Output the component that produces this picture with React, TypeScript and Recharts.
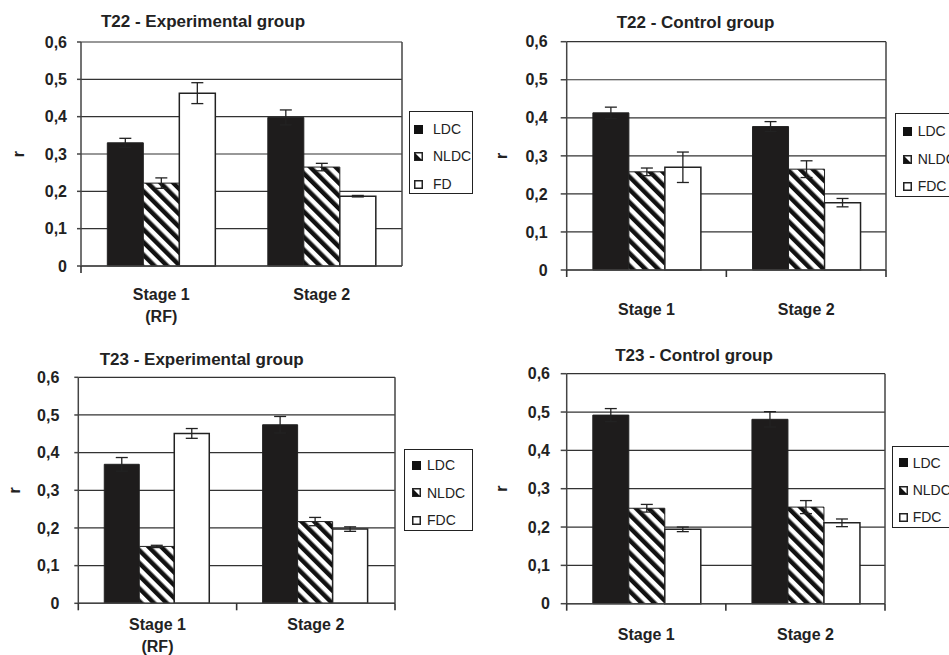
import React from 'react';
import { BarChart, Bar, XAxis, YAxis, CartesianGrid, ErrorBar, Legend } from 'recharts';

const FONT = '"Liberation Sans", Arial, Helvetica, sans-serif';
const INK = '#222';

// ---------- data ----------
const yTicks = [0, 0.1, 0.2, 0.3, 0.4, 0.5, 0.6];
const fmtY = (v: number) => (v === 0 ? '0' : v.toFixed(1).replace('.', ','));

// T22 - Experimental group
const t22ExpCategories = ['Stage 1\n(RF)', 'Stage 2'];
const t22ExpNames = ['LDC', 'NLDC', 'FD'];
const t22ExpLDC = [0.330, 0.398];
const t22ExpLDCErr = [0.012, 0.020];
const t22ExpNLDC = [0.222, 0.265];
const t22ExpNLDCErr = [0.014, 0.010];
const t22ExpFD = [0.463, 0.187];
const t22ExpFDErr = [0.028, 0.002];

// T22 - Control group
const t22CtlCategories = ['Stage 1', 'Stage 2'];
const t22CtlNames = ['LDC', 'NLDC', 'FDC'];
const t22CtlLDC = [0.413, 0.377];
const t22CtlLDCErr = [0.015, 0.013];
const t22CtlNLDC = [0.258, 0.265];
const t22CtlNLDCErr = [0.010, 0.022];
const t22CtlFDC = [0.270, 0.177];
const t22CtlFDCErr = [0.040, 0.011];

// T23 - Experimental group
const t23ExpCategories = ['Stage 1\n(RF)', 'Stage 2'];
const t23ExpNames = ['LDC', 'NLDC', 'FDC'];
const t23ExpLDC = [0.369, 0.474];
const t23ExpLDCErr = [0.018, 0.022];
const t23ExpNLDC = [0.151, 0.217];
const t23ExpNLDCErr = [0.003, 0.011];
const t23ExpFDC = [0.451, 0.197];
const t23ExpFDCErr = [0.013, 0.006];

// T23 - Control group
const t23CtlCategories = ['Stage 1', 'Stage 2'];
const t23CtlNames = ['LDC', 'NLDC', 'FDC'];
const t23CtlLDC = [0.492, 0.481];
const t23CtlLDCErr = [0.017, 0.020];
const t23CtlNLDC = [0.249, 0.252];
const t23CtlNLDCErr = [0.010, 0.017];
const t23CtlFDC = [0.194, 0.211];
const t23CtlFDCErr = [0.006, 0.010];

type Row = { name: string; ldc: number; ldcErr: number; nldc: number; nldcErr: number; fd: number; fdErr: number };

function makeRows(cats: string[], a: number[], ae: number[], b: number[], be: number[], c: number[], ce: number[]): Row[] {
  return cats.map((name, i) => ({ name, ldc: a[i], ldcErr: ae[i], nldc: b[i], nldcErr: be[i], fd: c[i], fdErr: ce[i] }));
}

// ---------- components ----------
// Category label + tick marks on the category boundaries (half a band to each side of the tick)
const CategoryTick = (props: any) => {
  const { x, y, payload, dy, gap, edges, index, visibleTicksCount } = props;
  const lines = String(payload.value).split('\n');
  const half = payload?.offset ?? 0;
  const marks: number[] = [];
  if (edges.includes(index)) marks.push(x - half);
  if (index === visibleTicksCount - 1 && edges.includes(index + 1)) marks.push(x + half);
  return (
    <g>
      {marks.map((mx, i) => (
        <line key={i} x1={mx} x2={mx} y1={y} y2={y + 7} stroke="#333" strokeWidth={1.6} />
      ))}
      <text x={x} y={y} textAnchor="middle" fontFamily={FONT} fontWeight="bold" fontSize={16} fill={INK}>
        {lines.map((l: string, i: number) => (
          <tspan key={i} x={x} y={y + dy + i * gap}>{l}</tspan>
        ))}
      </text>
    </g>
  );
};

const RLabel = (props: any) => {
  const { viewBox, offset } = props;
  const x = (viewBox?.x ?? 0) + offset;
  const y = (viewBox?.y ?? 0) + (viewBox?.height ?? 0) / 2;
  return (
    <text
      x={x}
      y={y}
      transform={`rotate(-90, ${x}, ${y})`}
      textAnchor="middle"
      dominantBaseline="central"
      fontFamily={FONT}
      fontWeight="bold"
      fontSize={16}
      fill={INK}
    >
      r
    </text>
  );
};

const Marker = ({ kind }: { kind: number }) => (
  <svg width={9} height={9} style={{ display: 'block' }}>
    {kind === 0 && <rect x={0} y={0} width={9} height={9} fill="#111" />}
    {kind === 1 && (
      <g>
        <rect x={0.75} y={0.75} width={7.5} height={7.5} fill="#fff" stroke={INK} strokeWidth={1.5} />
        <polygon points="1,1 8,8 1,8" fill="#111" />
      </g>
    )}
    {kind === 2 && <rect x={0.75} y={0.75} width={7.5} height={7.5} fill="#fff" stroke={INK} strokeWidth={1.5} />}
  </svg>
);

type LegendCfg = { left: number; top: number; w: number; h: number; markerX: number; textX: number; rows: number[] };

const LegendBox = ({ names, cfg }: { names: string[]; cfg: LegendCfg }) => (
  <div
    style={{
      position: 'relative',
      width: cfg.w,
      height: cfg.h,
      boxSizing: 'border-box',
      border: `1.5px solid ${INK}`,
      background: '#fff',
      fontFamily: FONT,
      fontSize: 14,
      color: INK,
    }}
  >
    {names.map((n, i) => (
      <div key={n} style={{ position: 'absolute', left: cfg.markerX, top: cfg.rows[i] - 9, height: 18, display: 'flex', alignItems: 'center', whiteSpace: 'nowrap' }}>
        <Marker kind={i} />
        <span style={{ marginLeft: cfg.textX - cfg.markerX - 9 }}>{n}</span>
      </div>
    ))}
  </div>
);

type PanelCfg = {
  title: string;
  rows: Row[];
  names: string[];
  edgeTicks: number[];
  box: { left: number; top: number; w: number; h: number };
  margin: { top: number; right: number; bottom: number; left: number };
  yWidth: number;
  yTickSize: number;
  yTickMargin: number;
  rOffset: number;
  titleX: number;
  titleBaseline: number;
  catDy: number;
  catGap: number;
  legend: LegendCfg;
};

const Panel = ({ p, idx }: { p: PanelCfg; idx: number }) => {
  const hatchId = `hatch${idx}`;
  return (
    <>
      <div
        style={{
          position: 'absolute',
          left: p.titleX - 160,
          width: 320,
          top: p.titleBaseline - 15.9,
          lineHeight: '20px',
          textAlign: 'center',
          fontFamily: FONT,
          fontWeight: 'bold',
          fontSize: 17,
          color: INK,
          zIndex: 2,
        }}
      >
        {p.title}
      </div>
      <div style={{ position: 'absolute', left: p.box.left, top: p.box.top }}>
        <BarChart
          width={p.box.w}
          height={p.box.h}
          data={p.rows}
          margin={{ ...p.margin, bottom: p.margin.bottom - 1, right: p.margin.right - 1 }}
          barCategoryGap="16.4%"
          barGap={0}
        >
          <defs>
            <pattern id={hatchId} patternUnits="userSpaceOnUse" width={9} height={9} patternTransform="rotate(-45)">
              <rect x={0} y={0} width={9} height={9} fill="#fff" />
              <rect x={0} y={0} width={4.5} height={9} fill="#111" />
            </pattern>
          </defs>
          <CartesianGrid vertical={false} stroke="#333" strokeWidth={1.2} />
          <XAxis
            dataKey="name"
            height={1}
            interval={0}
            tickSize={0}
            tickMargin={0}
            tickLine={false}
            axisLine={{ stroke: '#444', strokeWidth: 1.5 }}
            tick={(tp: any) => <CategoryTick {...tp} dy={p.catDy} gap={p.catGap} edges={p.edgeTicks} />}
          />
          <YAxis
            width={p.yWidth}
            domain={[0, 0.6]}
            ticks={yTicks}
            interval={0}
            tickFormatter={fmtY}
            tickSize={p.yTickSize}
            tickMargin={p.yTickMargin}
            axisLine={{ stroke: '#444', strokeWidth: 1.5 }}
            tickLine={{ stroke: '#444', strokeWidth: 1.5 }}
            tick={{ fontFamily: FONT, fontWeight: 'bold', fontSize: 16, fill: INK }}
            label={{ value: 'r', position: 'insideLeft', offset: p.rOffset, content: RLabel }}
          />
          <YAxis
            yAxisId="right"
            orientation="right"
            width={1}
            domain={[0, 0.6]}
            tick={false}
            tickLine={false}
            axisLine={{ stroke: '#444', strokeWidth: 1.5 }}
          />
          <Legend
            layout="vertical"
            align="center"
            verticalAlign="middle"
            wrapperStyle={{ left: p.legend.left, top: p.legend.top, width: p.legend.w, height: p.legend.h }}
            content={() => <LegendBox names={p.names} cfg={p.legend} />}
          />
          <Bar dataKey="ldc" name={p.names[0]} fill="#1e1c1c" stroke={INK} strokeWidth={1} isAnimationActive={false}>
            <ErrorBar dataKey="ldcErr" width={6} stroke={INK} strokeWidth={1.3} direction="y" />
          </Bar>
          <Bar dataKey="nldc" name={p.names[1]} fill={`url(#${hatchId})`} stroke={INK} strokeWidth={1} isAnimationActive={false}>
            <ErrorBar dataKey="nldcErr" width={6} stroke={INK} strokeWidth={1.3} direction="y" />
          </Bar>
          <Bar dataKey="fd" name={p.names[2]} fill="#fff" stroke={INK} strokeWidth={1.5} isAnimationActive={false}>
            <ErrorBar dataKey="fdErr" width={6} stroke={INK} strokeWidth={1.3} direction="y" />
          </Bar>
        </BarChart>
      </div>
    </>
  );
};

const panels: PanelCfg[] = [
  {
    title: 'T22 - Experimental group',
    rows: makeRows(t22ExpCategories, t22ExpLDC, t22ExpLDCErr, t22ExpNLDC, t22ExpNLDCErr, t22ExpFD, t22ExpFDErr),
    names: t22ExpNames,
    edgeTicks: [0],
    box: { left: 0, top: 0, w: 475, h: 325 },
    margin: { top: 42, right: 73, bottom: 59, left: 0 },
    yWidth: 81,
    yTickSize: 4,
    yTickMargin: 10,
    rOffset: 18,
    titleX: 203,
    titleBaseline: 28.3,
    catDy: 34,
    catGap: 21.7,
    legend: { left: 409, top: 111, w: 64, h: 83, markerX: 4, textX: 23, rows: [17, 44, 72] },
  },
  {
    title: 'T22 - Control group',
    rows: makeRows(t22CtlCategories, t22CtlLDC, t22CtlLDCErr, t22CtlNLDC, t22CtlNLDCErr, t22CtlFDC, t22CtlFDCErr),
    names: t22CtlNames,
    edgeTicks: [0, 1, 2],
    box: { left: 475, top: 0, w: 474, h: 325 },
    margin: { top: 41.7, right: 63, bottom: 55, left: 0 },
    yWidth: 91.7,
    yTickSize: 6,
    yTickMargin: 13,
    rOffset: 27,
    titleX: 695.5,
    titleBaseline: 29.3,
    catDy: 45,
    catGap: 21.7,
    legend: { left: 420, top: 113, w: 80, h: 84, markerX: 6.7, textX: 21.7, rows: [17, 45, 72] },
  },
  {
    title: 'T23 - Experimental group',
    rows: makeRows(t23ExpCategories, t23ExpLDC, t23ExpLDCErr, t23ExpNLDC, t23ExpNLDCErr, t23ExpFDC, t23ExpFDCErr),
    names: t23ExpNames,
    edgeTicks: [0, 1, 2],
    box: { left: 0, top: 325, w: 475, h: 330 },
    margin: { top: 52.3, right: 80, bottom: 51.7, left: 0 },
    yWidth: 78.3,
    yTickSize: 4,
    yTickMargin: 15,
    rOffset: 15,
    titleX: 201.7,
    titleBaseline: 365.7,
    catDy: 26.7,
    catGap: 21.7,
    legend: { left: 404.3, top: 124, w: 69, h: 82, markerX: 7, textX: 21.7, rows: [15.3, 42.7, 70] },
  },
  {
    title: 'T23 - Control group',
    rows: makeRows(t23CtlCategories, t23CtlLDC, t23CtlLDCErr, t23CtlNLDC, t23CtlNLDCErr, t23CtlFDC, t23CtlFDCErr),
    names: t23CtlNames,
    edgeTicks: [0, 1, 2],
    box: { left: 475, top: 325, w: 474, h: 330 },
    margin: { top: 48.7, right: 64, bottom: 51.3, left: 0 },
    yWidth: 91.7,
    yTickSize: 6,
    yTickMargin: 10.7,
    rOffset: 27,
    titleX: 694,
    titleBaseline: 361.7,
    catDy: 36.3,
    catGap: 21.7,
    legend: { left: 416.7, top: 121, w: 80, h: 82, markerX: 6, textX: 20, rows: [15.7, 43, 70] },
  },
];

export default function App() {
  return (
    <div style={{ position: 'absolute', left: 0, top: 0, width: 949, height: 655, overflow: 'hidden', background: '#fff' }}>
      {panels.map((p, i) => (
        <Panel key={p.title} p={p} idx={i} />
      ))}
    </div>
  );
}
